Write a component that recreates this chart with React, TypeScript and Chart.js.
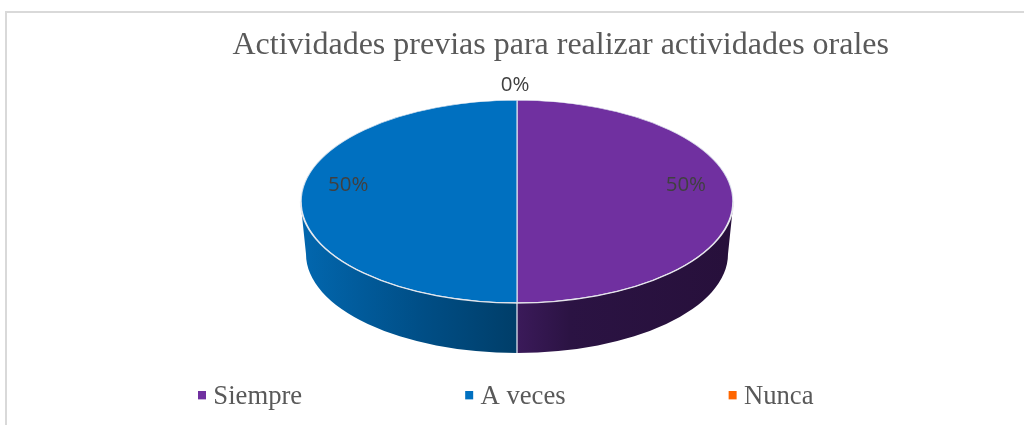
import React, { useEffect, useRef } from "react";
import { Chart, registerables } from "chart.js";

Chart.register(...registerables);

const title = "Actividades previas para realizar actividades orales";
const categories = ["Siempre", "A veces", "Nunca"];
const values = [50, 50, 0];
const percentLabels = ["50%", "50%", "0%"];
const sliceColors = ["#7030A0", "#0070C0", "#FF6600"];
const sideStops: string[][] = [
  ["#3B1A5A", "#2B1343", "#27103B"],
  ["#003E69", "#004E86", "#0266AD"],
  ["#7a3000", "#7a3000", "#7a3000"],
];

// projection of the flat pie on to the tilted disc
const PIE = { cx: 517, cy: 201.5, rx: 216.5, ry: 101.5, bottomCy: 254, bottomRx: 211, bottomRy: 99 };
const LEGEND_GAP = 163;

function legendMarker(color: string) {
  const c = document.createElement("canvas");
  c.width = 16;
  c.height = 12;
  const g = c.getContext("2d")!;
  g.fillStyle = color;
  g.fillRect(7, 0, 8, 8);
  return c;
}

const pie3d = {
  id: "pie3d",
  afterLayout(chart: any) {
    const a = chart.chartArea;
    a.left = PIE.cx - PIE.rx;
    a.right = PIE.cx + PIE.rx;
    a.top = PIE.cy - PIE.rx;
    a.bottom = PIE.cy + PIE.rx;
    a.width = a.height = PIE.rx * 2;
    chart.legend.left = 35;
    chart.legend.top = 384 - LEGEND_GAP;
    chart.titleBlock.right = 889;
  },
  beforeDatasetsDraw(chart: any) {
    const ctx: CanvasRenderingContext2D = chart.ctx;
    const arcs = chart.getDatasetMeta(0).data;
    arcs.forEach((arc: any, i: number) => {
      const a1 = Math.max(arc.startAngle, 0);
      const a2 = Math.min(arc.endAngle, Math.PI);
      if (a2 <= a1) return;
      const xA = PIE.cx + Math.cos(a1) * PIE.bottomRx;
      const xB = PIE.cx + Math.cos(a2) * PIE.bottomRx;
      const g = ctx.createLinearGradient(Math.min(xA, xB), 0, Math.max(xA, xB), 0);
      const stops = sideStops[i];
      if (i === 0) {
        g.addColorStop(0, stops[0]);
        g.addColorStop(0.25, stops[1]);
        g.addColorStop(1, stops[2]);
      } else {
        g.addColorStop(0, stops[2]);
        g.addColorStop(0.55, stops[1]);
        g.addColorStop(1, stops[0]);
      }
      ctx.save();
      ctx.beginPath();
      ctx.ellipse(PIE.cx, PIE.cy, PIE.rx, PIE.ry, 0, a1, a2);
      ctx.ellipse(PIE.cx, PIE.bottomCy, PIE.bottomRx, PIE.bottomRy, 0, a2, a1, true);
      ctx.closePath();
      ctx.fillStyle = g;
      ctx.fill();
      ctx.restore();
    });
    // seam between the two sides
    ctx.save();
    ctx.strokeStyle = "rgba(225,232,240,0.85)";
    ctx.lineWidth = 1.5;
    ctx.beginPath();
    ctx.moveTo(PIE.cx, PIE.cy + PIE.ry);
    ctx.lineTo(PIE.cx, PIE.bottomCy + PIE.bottomRy);
    ctx.stroke();
    ctx.restore();
    ctx.save();
    ctx.translate(PIE.cx, PIE.cy);
    ctx.scale(1, PIE.ry / PIE.rx);
    ctx.translate(-PIE.cx, -PIE.cy);
  },
  afterDatasetsDraw(chart: any) {
    const ctx: CanvasRenderingContext2D = chart.ctx;
    ctx.restore();
    // light rim on the front edge
    ctx.save();
    ctx.strokeStyle = "rgba(235,235,240,0.9)";
    ctx.lineWidth = 1.3;
    ctx.beginPath();
    ctx.ellipse(PIE.cx, PIE.cy, PIE.rx, PIE.ry, 0, 0, Math.PI);
    ctx.stroke();
    ctx.restore();
    // percentage labels
    ctx.save();
    ctx.font = '20.5px "Open Sans"';
    ctx.fillStyle = "#404040";
    ctx.textAlign = "center";
    ctx.textBaseline = "middle";
    chart.getDatasetMeta(0).data.forEach((arc: any, i: number) => {
      const mid = (arc.startAngle + arc.endAngle) / 2;
      const zero = values[i] === 0;
      const f = zero ? 1 : 0.78;
      const x = PIE.cx + Math.cos(mid) * PIE.rx * f + (zero ? -2 : 0);
      const y = PIE.cy + Math.sin(mid) * PIE.ry * f + (zero ? -15 : -16.5);
      ctx.fillText(percentLabels[i], x, y);
    });
    ctx.restore();
  },
};

export default function App() {
  const ref = useRef<HTMLCanvasElement>(null);
  useEffect(() => {
    document.body.style.margin = "0";
    document.body.style.overflow = "hidden";
    const chart = new Chart(ref.current!, {
      type: "pie",
      data: {
        labels: categories,
        datasets: [
          {
            data: values,
            backgroundColor: sliceColors,
            borderColor: "rgba(225,232,240,0.85)",
            borderWidth: 1.3,
            clip: false,
          } as any,
        ],
      },
      options: {
        animation: false,
        responsive: false,
        layout: { padding: { left: 35, right: 0, top: 14, bottom: 0 } },
        plugins: {
          title: {
            display: true,
            text: title,
            align: "end",
            color: "#595959",
            font: { family: '"Liberation Serif"', size: 32, weight: "normal" },
            padding: { top: 12, bottom: 6 },
          },
          legend: {
            position: "bottom",
            align: "start",
            labels: {
              color: "#595959",
              font: { family: '"Liberation Serif"', size: 26.67 },
              usePointStyle: true,
              pointStyleWidth: 2,
              padding: LEGEND_GAP,
              generateLabels: () =>
                categories.map((c, i) => ({
                  text: c,
                  pointStyle: legendMarker(sliceColors[i]),
                  fontColor: "#595959",
                  strokeStyle: "transparent",
                  fillStyle: sliceColors[i],
                  lineWidth: 0,
                  hidden: false,
                  index: i,
                })),
            },
          },
          tooltip: { enabled: false },
        },
      } as any,
      plugins: [pie3d],
    });
    return () => chart.destroy();
  }, []);
  return (
    <div style={{ position: "absolute", left: 0, top: 0, width: 1024, height: 425, overflow: "hidden", background: "#fff" }}>
      <div style={{ position: "absolute", left: 5, top: 11, right: 0, bottom: 0, borderLeft: "2px solid #d9d9d9", borderTop: "2px solid #d9d9d9" }} />
      <canvas ref={ref} width={1024} height={425} style={{ position: "absolute", left: 0, top: 0, display: "block" }} />
    </div>
  );
}
